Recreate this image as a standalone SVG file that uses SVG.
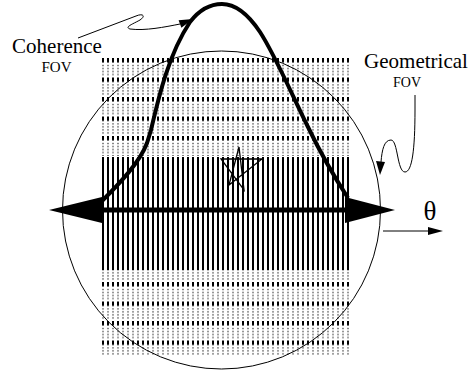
<svg xmlns="http://www.w3.org/2000/svg" width="471" height="370" viewBox="0 0 471 370">
<defs>
<style>
text{font-family:'Liberation Serif','Times New Roman',serif;fill:#000;text-anchor:middle}
.thin{fill:none;stroke:#000;stroke-width:1}
</style>
<pattern id="dash" x="102" y="58" width="5" height="19.5" patternUnits="userSpaceOnUse">
<rect x="0" y="0" width="2" height="4.5" fill="#000"/>
<rect x="0" y="7" width="2" height="1" fill="#555"/>
<rect x="0" y="10" width="2" height="1" fill="#555"/>
<rect x="0" y="13" width="2" height="1" fill="#555"/>
<rect x="0" y="16" width="2" height="1" fill="#555"/>
</pattern>
<pattern id="dash2" x="102" y="262.5" width="5" height="19.5" patternUnits="userSpaceOnUse">
<rect x="0" y="0" width="2" height="4.5" fill="#000"/>
<rect x="0" y="7" width="2" height="1" fill="#555"/>
<rect x="0" y="10" width="2" height="1" fill="#555"/>
<rect x="0" y="13" width="2" height="1" fill="#555"/>
<rect x="0" y="16" width="2" height="1" fill="#555"/>
</pattern>
<pattern id="vlines" x="102" y="0" width="5" height="10" patternUnits="userSpaceOnUse">
<rect x="0" y="0" width="2" height="10" fill="#000"/>
</pattern>
</defs>
<rect width="471" height="370" fill="#fff"/>
<g id="grating">
<rect x="102" y="58" width="248" height="98" fill="url(#dash)"/>
<rect x="102" y="157" width="248" height="113" fill="url(#vlines)"/>
<rect x="102" y="270" width="248" height="85" fill="url(#dash2)"/>
</g>
<g id="geometrical-fov">
<circle cx="221.5" cy="210" r="159" class="thin"/>
</g>
<g id="star">
<polygon points="239,147 229,185 262,159 221,159 244,190" fill="none" stroke="#000" stroke-width="1.3" stroke-linejoin="miter"/>
</g>
<g id="coherence-curve">
<path d="M102,201 C120,183 140,162 147,143 L151,130 C158,100 168,55 190,22 C200,9 212,4 222,4 C236,4 248,14 260,32 C275,55 292,95 308,127 C320,152 335,178 348,198" fill="none" stroke="#000" stroke-width="4"/>
</g>
<g id="theta-axis">
<line x1="100" y1="210" x2="348" y2="210" stroke="#000" stroke-width="5"/>
<polygon points="49,210 102,197 102,223" fill="#000"/>
<polygon points="395,210 345,197 345,223" fill="#000"/>
</g>
<g id="connectors">
<path d="M78,38 L136,16 C143,13 146,16 140,20 C133,24 124,27 130,29 C145,31 165,27 180,24" class="thin"/>
<polygon points="193,19 178.6,20.3 181.4,27.7" fill="#000"/>
<path d="M415,95 L415,110 C415,150 412,172 405,172 C397,172 398,140 391,140 C384,140 382,150 381,162" class="thin"/>
<polygon points="380,175 376,161 385,162" fill="#000"/>
<line x1="383" y1="231" x2="430" y2="231" stroke="#000" stroke-width="1"/>
<polygon points="443,231 428,227 428,235" fill="#000"/>
</g>
<g id="labels">
<text x="57" y="53" font-size="21">Coherence</text>
<text x="56.5" y="72" font-size="15">FOV</text>
<text x="416" y="68" font-size="21">Geometrical</text>
<text x="407" y="87" font-size="14">FOV</text>
<text x="430" y="220" font-size="27">θ</text>
</g>
</svg>
